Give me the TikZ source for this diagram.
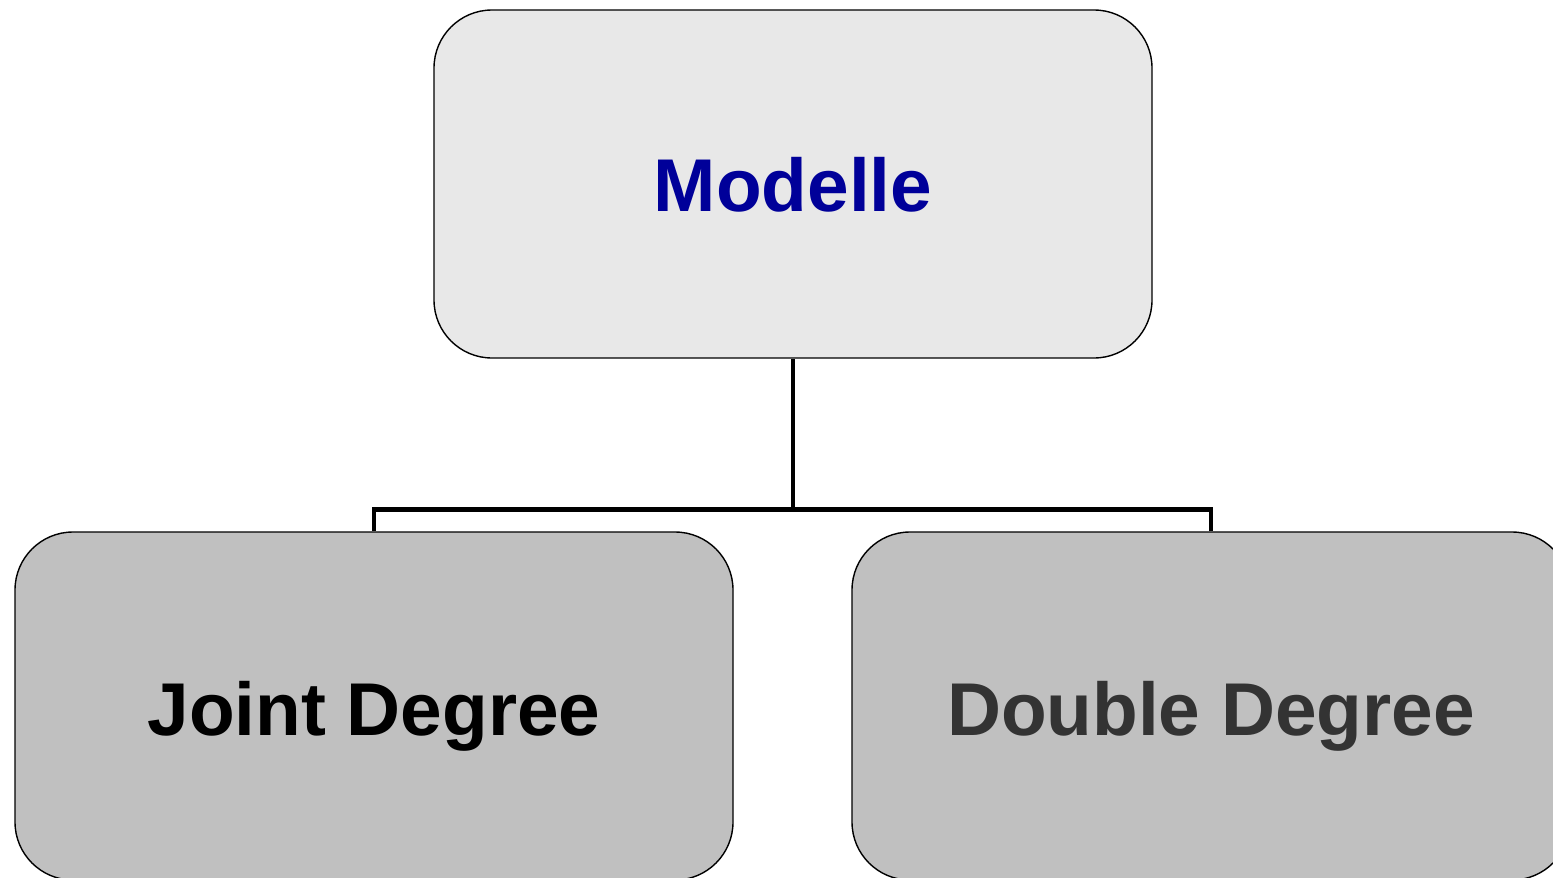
\documentclass[tikz,border=0pt]{standalone}
\usepackage{fontspec}
\setmainfont{Liberation Sans}
\definecolor{topfill}{HTML}{E8E8E8}
\definecolor{subfill}{HTML}{C0C0C0}
\definecolor{titleblue}{HTML}{000099}
\definecolor{darkgraytext}{HTML}{333333}
\tikzset{
  box/.style={draw=black, line width=0.7pt, rounded corners=29pt,
    minimum width=359pt, minimum height=174pt, inner sep=0pt,
    font=\fontsize{37.4}{44}\selectfont\bfseries, text depth=0pt},
  topbox/.style={box, fill=topfill, text=titleblue},
  subbox/.style={box, fill=subfill},
  conn/.style={draw=black, line width=2.3pt, line join=miter}
}
\begin{document}
\begin{tikzpicture}
\useasboundingbox (0,0) rectangle (776.5pt,-439pt);
\clip (0,0) rectangle (776.5pt,-439pt);
\node[topbox] (top) at (396.5pt,-92pt) {\raisebox{-0.8pt}{Modelle}};
\node[subbox, text=black] (left) at (187pt,-353pt) {\raisebox{-2pt}{Joint Degree}};
\node[subbox, text=darkgraytext] (right) at (605.5pt,-353pt) {\raisebox{-2pt}{Double Degree}};
\draw[conn] (left.north) -- ++(0,11pt) -| (top.south);
\draw[conn] (right.north) -- ++(0,11pt) -| (top.south);
\end{tikzpicture}
\end{document}
